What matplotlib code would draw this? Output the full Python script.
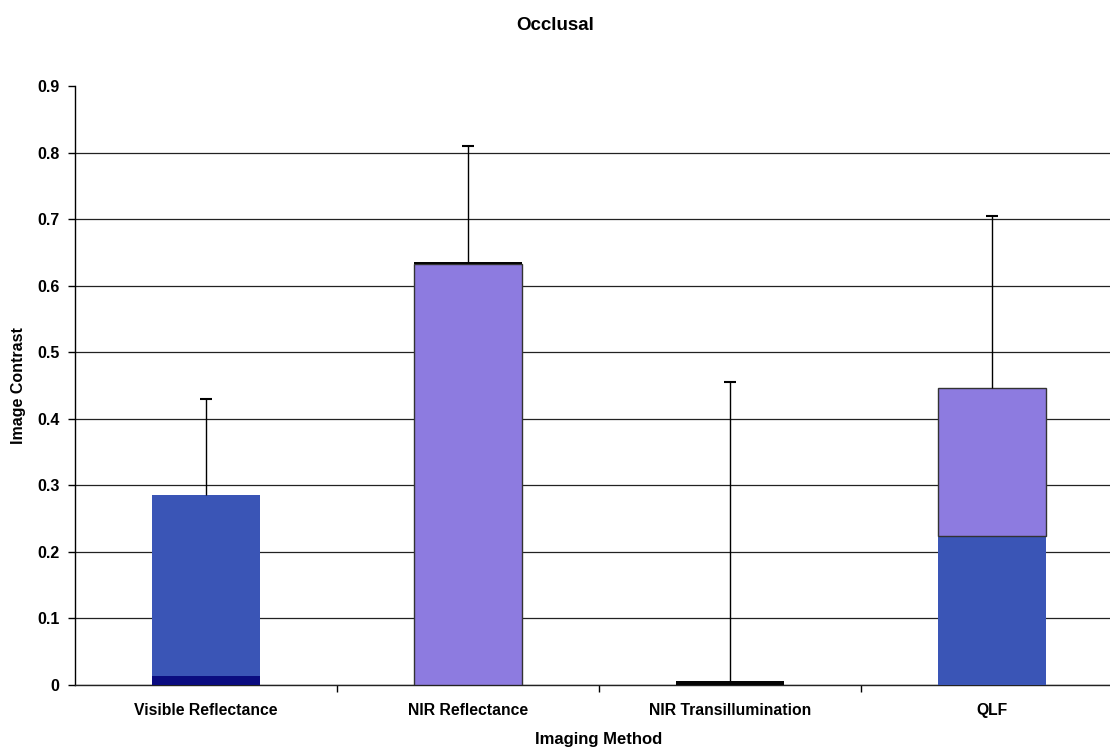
import numpy as np
import matplotlib.pyplot as plt

plt.rcParams['font.family'] = ['Liberation Sans', 'DejaVu Sans']
plt.rcParams['font.weight'] = 'bold'

methods = ['Visible Reflectance', 'NIR Reflectance', 'NIR Transillumination', 'QLF']

# stacked segments, bottom to top
navy = [0.0135, 0.0, 0.0, 0.0]
blue = [0.2715, 0.0, 0.0, 0.2235]
purple = [0.0, 0.633, 0.0, 0.223]
black = [0.0, 0.003, 0.006, 0.0]
err_top = [0.43, 0.81, 0.455, 0.705]

yticks = [0, 0.1, 0.2, 0.3, 0.4, 0.5, 0.6, 0.7, 0.8, 0.9]

fig = plt.figure(figsize=(11.1, 7.51), dpi=100)
ax = fig.add_axes([75/1110, 66/751, 1048/1110, 599/751])

x = np.arange(len(methods))
w = 0.415

bottom = np.zeros(len(methods))
segs = [(navy, '#0b0c80', 'none'), (blue, '#3a55b6', 'none'),
        (purple, '#8d7be0', '#333333'), (black, '#050505', 'none')]
for vals, col, ec in segs:
    vals = np.array(vals)
    mask = vals > 0
    ax.bar(x[mask], vals[mask], w, bottom=bottom[mask], color=col,
           edgecolor=ec, linewidth=1.0, zorder=3)
    bottom += vals

# error bars, upper side only
totals = bottom
ax.vlines(x, totals, err_top, color='black', linewidth=1.0, zorder=4)
ax.plot(x, err_top, linestyle='none', marker='_', markersize=9,
        markeredgewidth=1.5, color='black', zorder=4)

ax.set_xlim(-0.5, 3.5)
ax.set_ylim(0, 0.9)
ax.set_yticks(yticks)
ax.set_yticklabels([('%g' % v) for v in yticks], fontsize=11.5, fontweight='bold')
ax.yaxis.grid(True, color='#222222', linewidth=0.9, zorder=0)
ax.yaxis.get_gridlines()[-1].set_visible(False)
ax.set_axisbelow(True)

# category labels between boundary ticks
ax.set_xticks([0.5, 1.5, 2.5])
ax.set_xticklabels([])
ax.set_xticks(x, minor=True)
ax.set_xticklabels(methods, minor=True, fontsize=11.3, fontweight='bold')
ax.tick_params(axis='x', which='minor', length=0, pad=13)
ax.tick_params(axis='x', which='major', length=5, width=1, direction='out')
ax.tick_params(axis='y', length=5, width=1, direction='out', pad=6)

for s in ['top', 'right']:
    ax.spines[s].set_visible(False)
ax.spines['left'].set_linewidth(1.0)
ax.spines['bottom'].set_linewidth(1.0)
ax.spines['bottom'].set_color('#222222')

ax.set_ylabel('Image Contrast', fontsize=11.5, fontweight='bold', labelpad=8)
ax.set_xlabel('Imaging Method', fontsize=12, fontweight='bold', labelpad=10)
fig.text(555/1110, 1 - 25/751, 'Occlusal', ha='center', va='center',
         fontsize=13.5, fontweight='bold')

fig.savefig('out.png', dpi=100)
